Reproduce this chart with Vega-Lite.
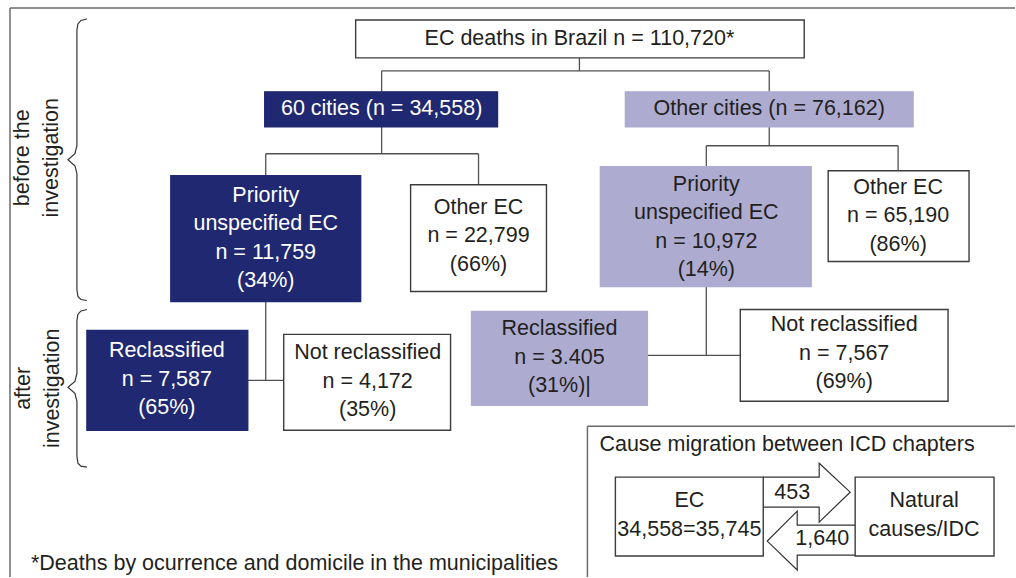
{
  "$schema": "https://vega.github.io/schema/vega-lite/v6.json",
  "width": 1016,
  "height": 578,
  "padding": 0,
  "autosize": {"type": "fit", "contains": "padding"},
  "background": "#ffffff",
  "config": {"view": {"stroke": null}},
  "datasets": {
    "boxes": [
      {"box": "EC deaths in Brazil", "tone": "white", "x0": 356, "x1": 805, "y0": 20, "y1": 58},
      {"box": "60 cities", "tone": "navy", "x0": 265, "x1": 498, "y0": 92, "y1": 127},
      {"box": "Other cities", "tone": "lavender", "x0": 626, "x1": 914, "y0": 92, "y1": 127},
      {"box": "Priority 60", "tone": "navy", "x0": 171, "x1": 361, "y0": 176, "y1": 302},
      {"box": "Other EC 60", "tone": "white", "x0": 411, "x1": 547, "y0": 185, "y1": 292},
      {"box": "Priority other", "tone": "lavender", "x0": 601, "x1": 812, "y0": 167, "y1": 287},
      {"box": "Other EC other", "tone": "white", "x0": 829, "x1": 970, "y0": 171, "y1": 262},
      {"box": "Reclassified 60", "tone": "navy", "x0": 87, "x1": 248, "y0": 331, "y1": 431},
      {"box": "Not reclassified 60", "tone": "white", "x0": 284, "x1": 451, "y0": 335, "y1": 431},
      {"box": "Reclassified other", "tone": "lavender", "x0": 472, "x1": 648, "y0": 312, "y1": 406},
      {"box": "Not reclassified other", "tone": "white", "x0": 741, "x1": 949, "y0": 310, "y1": 402},
      {"box": "EC", "tone": "white", "x0": 616, "x1": 764, "y0": 478, "y1": 557},
      {"box": "Natural causes", "tone": "white", "x0": 856, "x1": 995, "y0": 478, "y1": 557}
    ],
    "links": [
      {"x": 580, "y": 58, "x2": 580, "y2": 71},
      {"x": 382, "y": 71, "x2": 770, "y2": 71},
      {"x": 382, "y": 71, "x2": 382, "y2": 92},
      {"x": 770, "y": 71, "x2": 770, "y2": 92},
      {"x": 382, "y": 127, "x2": 382, "y2": 154},
      {"x": 266, "y": 154, "x2": 479, "y2": 154},
      {"x": 266, "y": 154, "x2": 266, "y2": 176},
      {"x": 479, "y": 154, "x2": 479, "y2": 185},
      {"x": 770, "y": 127, "x2": 770, "y2": 146},
      {"x": 707, "y": 146, "x2": 899, "y2": 146},
      {"x": 707, "y": 146, "x2": 707, "y2": 167},
      {"x": 899, "y": 146, "x2": 899, "y2": 171},
      {"x": 266, "y": 302, "x2": 266, "y2": 381},
      {"x": 248, "y": 381, "x2": 284, "y2": 381},
      {"x": 707, "y": 287, "x2": 707, "y2": 356},
      {"x": 648, "y": 356, "x2": 741, "y2": 356}
    ],
    "frames": [
      {"x": 10, "y": 8, "x2": 10, "y2": 578},
      {"x": 10, "y": 8, "x2": 1016, "y2": 8},
      {"x": 588, "y": 427, "x2": 588, "y2": 578},
      {"x": 588, "y": 427, "x2": 1016, "y2": 427}
    ],
    "labels": [
      {"label": "EC deaths in Brazil n = 110,720*", "tone": "dark", "x": 580, "y": 39},
      {"label": "60 cities (n = 34,558)", "tone": "light", "x": 382, "y": 109},
      {"label": "Other cities (n = 76,162)", "tone": "dark", "x": 770, "y": 109},
      {"label": "Priority\nunspecified EC\nn = 11,759\n(34%)", "tone": "light", "x": 266, "y": 196},
      {"label": "Other EC\nn = 22,799\n(66%)", "tone": "dark", "x": 479, "y": 208},
      {"label": "Priority\nunspecified EC\nn = 10,972\n(14%)", "tone": "dark", "x": 707, "y": 185},
      {"label": "Other EC\nn = 65,190\n(86%)", "tone": "dark", "x": 899, "y": 188},
      {"label": "Reclassified\nn = 7,587\n(65%)", "tone": "light", "x": 167, "y": 352},
      {"label": "Not reclassified\nn = 4,172\n(35%)", "tone": "dark", "x": 368, "y": 354},
      {"label": "Reclassified\nn = 3.405\n(31%)|", "tone": "dark", "x": 560, "y": 330},
      {"label": "Not reclassified\nn = 7,567\n(69%)", "tone": "dark", "x": 845, "y": 326},
      {"label": "EC\n34,558=35,745", "tone": "dark", "x": 690, "y": 502},
      {"label": "Natural\ncauses/IDC", "tone": "dark", "x": 925, "y": 502},
      {"label": "453", "tone": "dark", "x": 793, "y": 494},
      {"label": "1,640", "tone": "dark", "x": 823, "y": 540}
    ],
    "notes": [
      {"label": "Cause migration between ICD chapters", "x": 600, "y": 446},
      {"label": "*Deaths by ocurrence and domicile in the municipalities", "x": 31, "y": 565}
    ],
    "phases": [
      {"label": "before the\ninvestigation", "x": 23, "y": 158},
      {"label": "after\ninvestigation", "x": 24, "y": 389}
    ],
    "braces": [
      {"brace": "before", "i": 1, "x": 87, "y": 19},
      {"brace": "before", "i": 2, "x": 81, "y": 20.5},
      {"brace": "before", "i": 3, "x": 78, "y": 24},
      {"brace": "before", "i": 4, "x": 77, "y": 30},
      {"brace": "before", "i": 5, "x": 77, "y": 146},
      {"brace": "before", "i": 6, "x": 75, "y": 154},
      {"brace": "before", "i": 7, "x": 68, "y": 160},
      {"brace": "before", "i": 8, "x": 75, "y": 166},
      {"brace": "before", "i": 9, "x": 77, "y": 174},
      {"brace": "before", "i": 10, "x": 77, "y": 290},
      {"brace": "before", "i": 11, "x": 78, "y": 297},
      {"brace": "before", "i": 12, "x": 81, "y": 300},
      {"brace": "before", "i": 13, "x": 87, "y": 301},
      {"brace": "after", "i": 1, "x": 87, "y": 310},
      {"brace": "after", "i": 2, "x": 81, "y": 311.5},
      {"brace": "after", "i": 3, "x": 78, "y": 315},
      {"brace": "after", "i": 4, "x": 77, "y": 321},
      {"brace": "after", "i": 5, "x": 77, "y": 374},
      {"brace": "after", "i": 6, "x": 75, "y": 382},
      {"brace": "after", "i": 7, "x": 68, "y": 388},
      {"brace": "after", "i": 8, "x": 75, "y": 394},
      {"brace": "after", "i": 9, "x": 77, "y": 402},
      {"brace": "after", "i": 10, "x": 77, "y": 457},
      {"brace": "after", "i": 11, "x": 78, "y": 464},
      {"brace": "after", "i": 12, "x": 81, "y": 467},
      {"brace": "after", "i": 13, "x": 87, "y": 468}
    ],
    "arrows": [
      {"arrow": "EC to natural (453)", "i": 1, "x": 764, "y": 478},
      {"arrow": "EC to natural (453)", "i": 2, "x": 820, "y": 478},
      {"arrow": "EC to natural (453)", "i": 3, "x": 820, "y": 464},
      {"arrow": "EC to natural (453)", "i": 4, "x": 851, "y": 493},
      {"arrow": "EC to natural (453)", "i": 5, "x": 820, "y": 523},
      {"arrow": "EC to natural (453)", "i": 6, "x": 820, "y": 508},
      {"arrow": "EC to natural (453)", "i": 7, "x": 764, "y": 508},
      {"arrow": "natural to EC (1,640)", "i": 1, "x": 856, "y": 526},
      {"arrow": "natural to EC (1,640)", "i": 2, "x": 798, "y": 526},
      {"arrow": "natural to EC (1,640)", "i": 3, "x": 798, "y": 512},
      {"arrow": "natural to EC (1,640)", "i": 4, "x": 768, "y": 542},
      {"arrow": "natural to EC (1,640)", "i": 5, "x": 798, "y": 571},
      {"arrow": "natural to EC (1,640)", "i": 6, "x": 798, "y": 556},
      {"arrow": "natural to EC (1,640)", "i": 7, "x": 856, "y": 556}
    ]
  },
  "layer": [
    {
      "data": {"name": "frames"},
      "mark": {"type": "rule", "color": "#6b6b6b", "strokeWidth": 1.5},
      "encoding": {
        "x": {"field": "x", "type": "quantitative", "scale": {"domain": [0, 1016], "nice": false, "zero": false}, "axis": null},
        "y": {"field": "y", "type": "quantitative", "scale": {"domain": [0, 578], "nice": false, "zero": false, "reverse": true}, "axis": null},
        "x2": {"field": "x2"},
        "y2": {"field": "y2"}
      }
    },
    {
      "data": {"name": "links"},
      "mark": {"type": "rule", "color": "#505050", "strokeWidth": 1.3},
      "encoding": {
        "x": {"field": "x", "type": "quantitative", "scale": {"domain": [0, 1016], "nice": false, "zero": false}, "axis": null},
        "y": {"field": "y", "type": "quantitative", "scale": {"domain": [0, 578], "nice": false, "zero": false, "reverse": true}, "axis": null},
        "x2": {"field": "x2"},
        "y2": {"field": "y2"}
      }
    },
    {
      "data": {"name": "boxes"},
      "mark": {"type": "rect", "strokeWidth": 1.4},
      "encoding": {
        "x": {"field": "x0", "type": "quantitative", "scale": {"domain": [0, 1016], "nice": false, "zero": false}, "axis": null},
        "x2": {"field": "x1"},
        "y": {"field": "y0", "type": "quantitative", "scale": {"domain": [0, 578], "nice": false, "zero": false, "reverse": true}, "axis": null},
        "y2": {"field": "y1"},
        "fill": {"field": "tone", "type": "nominal", "scale": {"domain": ["navy", "lavender", "white"], "range": ["#1f2870", "#adacd0", "#ffffff"]}, "legend": null},
        "stroke": {"field": "tone", "type": "nominal", "scale": {"domain": ["navy", "lavender", "white"], "range": ["#1f2870", "#adacd0", "#3c3c3c"]}, "legend": null}
      }
    },
    {
      "data": {"name": "arrows"},
      "mark": {"type": "line", "color": "#333333", "strokeWidth": 1.2, "strokeJoin": "miter"},
      "encoding": {
        "x": {"field": "x", "type": "quantitative", "scale": {"domain": [0, 1016], "nice": false, "zero": false}, "axis": null},
        "y": {"field": "y", "type": "quantitative", "scale": {"domain": [0, 578], "nice": false, "zero": false, "reverse": true}, "axis": null},
        "detail": {"field": "arrow", "type": "nominal"},
        "order": {"field": "i", "type": "quantitative"}
      }
    },
    {
      "data": {"name": "braces"},
      "mark": {"type": "line", "color": "#333333", "strokeWidth": 1.2, "interpolate": "linear"},
      "encoding": {
        "x": {"field": "x", "type": "quantitative", "scale": {"domain": [0, 1016], "nice": false, "zero": false}, "axis": null},
        "y": {"field": "y", "type": "quantitative", "scale": {"domain": [0, 578], "nice": false, "zero": false, "reverse": true}, "axis": null},
        "detail": {"field": "brace", "type": "nominal"},
        "order": {"field": "i", "type": "quantitative"}
      }
    },
    {
      "data": {"name": "labels"},
      "mark": {"type": "text", "font": "Liberation Sans", "fontSize": 21.5, "align": "center", "baseline": "middle", "lineBreak": "\n", "lineHeight": 28.5},
      "encoding": {
        "x": {"field": "x", "type": "quantitative", "scale": {"domain": [0, 1016], "nice": false, "zero": false}, "axis": null},
        "y": {"field": "y", "type": "quantitative", "scale": {"domain": [0, 578], "nice": false, "zero": false, "reverse": true}, "axis": null},
        "text": {"field": "label"},
        "color": {"field": "tone", "type": "nominal", "scale": {"domain": ["dark", "light"], "range": ["#231f20", "#ffffff"]}, "legend": null}
      }
    },
    {
      "data": {"name": "notes"},
      "mark": {"type": "text", "font": "Liberation Sans", "fontSize": 21.5, "align": "left", "baseline": "middle", "color": "#231f20"},
      "encoding": {
        "x": {"field": "x", "type": "quantitative", "scale": {"domain": [0, 1016], "nice": false, "zero": false}, "axis": null},
        "y": {"field": "y", "type": "quantitative", "scale": {"domain": [0, 578], "nice": false, "zero": false, "reverse": true}, "axis": null},
        "text": {"field": "label"}
      }
    },
    {
      "data": {"name": "phases"},
      "mark": {"type": "text", "font": "Liberation Sans", "fontSize": 21.5, "align": "center", "baseline": "middle", "angle": 270, "lineBreak": "\n", "lineHeight": 29.5, "color": "#231f20"},
      "encoding": {
        "x": {"field": "x", "type": "quantitative", "scale": {"domain": [0, 1016], "nice": false, "zero": false}, "axis": null},
        "y": {"field": "y", "type": "quantitative", "scale": {"domain": [0, 578], "nice": false, "zero": false, "reverse": true}, "axis": null},
        "text": {"field": "label"}
      }
    }
  ]
}
